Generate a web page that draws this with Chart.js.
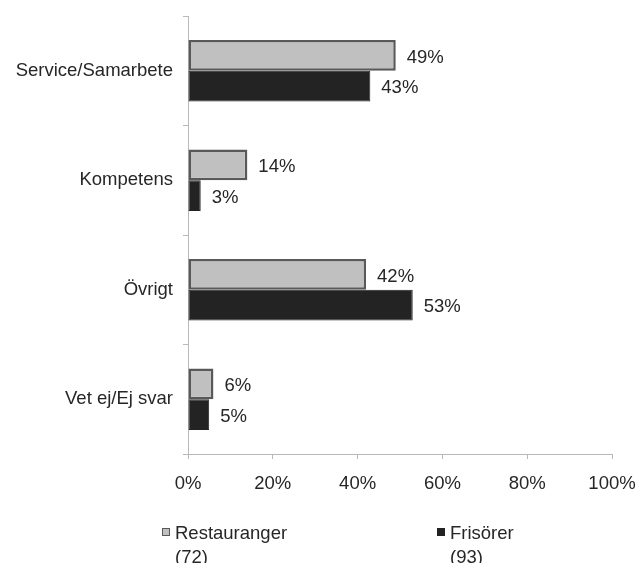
<!DOCTYPE html>
<html>
<head>
<meta charset="utf-8">
<script src="https://cdn.jsdelivr.net/npm/chart.js@4/dist/chart.umd.min.js"></script>
<style>
  html, body { margin: 0; padding: 0; background: #fff; }
  #wrap { width: 636px; height: 563px; }
</style>
</head>
<body>
<div id="wrap"><canvas id="chart" width="636" height="563"></canvas></div>
<script>
// Chart data
const categories = ['Service/Samarbete', 'Kompetens', 'Övrigt', 'Vet ej/Ej svar'];
const restauranger = [49, 14, 42, 6];
const frisorer = [43, 3, 53, 5];
const seriesNames = [['Restauranger', '(72)'], ['Frisörer', '(93)']];
const xTicks = [0, 20, 40, 60, 80, 100];

const FONT = '"Liberation Sans", Arial, sans-serif';
const FS = 18.5;
const TEXT = '#262626';

// value labels right of each bar
const valueLabels = {
    id: 'valueLabels',
    afterDatasetsDraw(chart) {
        const ctx = chart.ctx;
        ctx.save();
        ctx.font = FS + 'px ' + FONT;
        ctx.fillStyle = TEXT;
        ctx.textBaseline = 'middle';
        ctx.textAlign = 'left';
        chart.data.datasets.forEach((ds, i) => {
            chart.getDatasetMeta(i).data.forEach((bar, j) => {
                ctx.fillText(ds.data[j] + '%', bar.x + 11, bar.y + 2);
            });
        });
        ctx.restore();
    }
};

// two-line legend under the axis
const bottomLegend = {
    id: 'bottomLegend',
    afterDraw(chart) {
        const ctx = chart.ctx;
        const xs = [162, 437];
        ctx.save();
        ctx.font = FS + 'px ' + FONT;
        ctx.textBaseline = 'alphabetic';
        ctx.textAlign = 'left';
        chart.data.datasets.forEach((ds, i) => {
            const x = xs[i];
            ctx.fillStyle = ds.backgroundColor;
            ctx.strokeStyle = ds.borderColor;
            ctx.lineWidth = 1;
            ctx.fillRect(x, 528, 8, 8);
            ctx.strokeRect(x + 0.5, 528.5, 7, 7);
            ctx.fillStyle = TEXT;
            ctx.fillText(seriesNames[i][0], x + 13, 539);
            ctx.fillText(seriesNames[i][1], x + 13, 563);
        });
        ctx.restore();
    }
};

new Chart(document.getElementById('chart'), {
    type: 'bar',
    data: {
        labels: categories,
        datasets: [
            {
                label: seriesNames[0].join(' '),
                data: restauranger,
                backgroundColor: '#c0c0c0',
                borderColor: '#595959',
                borderWidth: 2.5,
                borderSkipped: false
            },
            {
                label: seriesNames[1].join(' '),
                data: frisorer,
                backgroundColor: '#232323',
                borderColor: '#232323',
                borderWidth: 1,
                borderSkipped: false
            }
        ]
    },
    options: {
        indexAxis: 'y',
        responsive: false,
        animation: false,
        categoryPercentage: 0.56,
        barPercentage: 1.0,
        layout: { padding: { top: 16, right: 24, bottom: 59, left: 0 } },
        plugins: {
            legend: { display: false },
            tooltip: { enabled: false }
        },
        scales: {
            x: {
                min: 0,
                max: 100,
                afterBuildTicks: (scale) => { scale.ticks = xTicks.map(v => ({ value: v })); },
                afterFit: (scale) => {
                    scale.height = 50;
                    scale.paddingLeft = 0;
                    scale.paddingRight = 0;
                },
                grid: { drawOnChartArea: false, tickLength: 5, color: '#b8b8b8' },
                border: { color: '#b8b8b8' },
                ticks: {
                    callback: (v) => v + '%',
                    color: TEXT,
                    padding: 14,
                    maxRotation: 0,
                    font: { family: FONT, size: FS }
                }
            },
            y: {
                afterFit: (scale) => {
                    scale.width = 188;
                    scale.paddingTop = 0;
                    scale.paddingBottom = 0;
                },
                grid: { drawOnChartArea: false, tickLength: 5, offset: true, color: '#b8b8b8' },
                border: { color: '#b8b8b8' },
                ticks: {
                    color: TEXT,
                    padding: 10,
                    font: { family: FONT, size: FS }
                }
            }
        }
    },
    plugins: [valueLabels, bottomLegend]
});
</script>
</body>
</html>
